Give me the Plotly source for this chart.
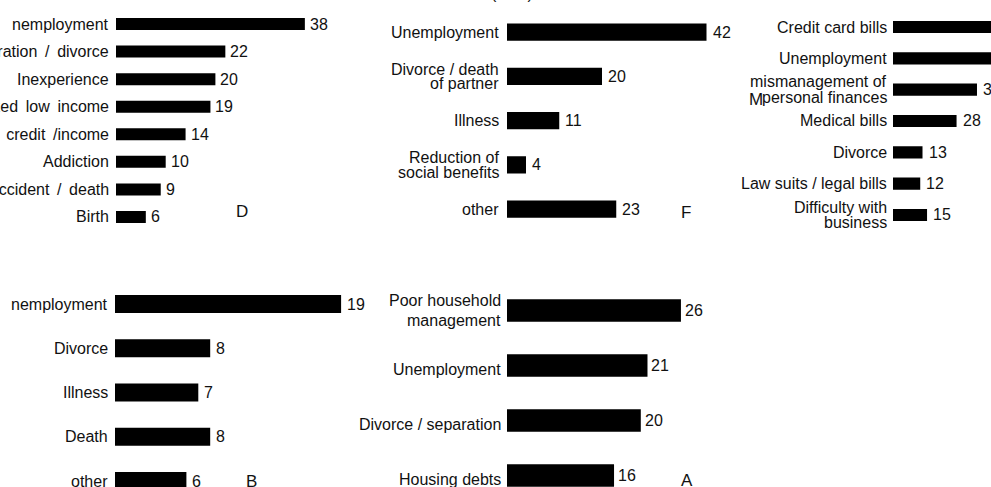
import plotly.graph_objects as go

# ---------------- data ----------------
d_categories = ["nemployment", "Separation / divorce", "Inexperience", "Fixed low income",
                "Excess credit /income", "Addiction", "Accident / death", "Birth"]
d_values = [38, 22, 20, 19, 14, 10, 9, 6]

f_categories = ["Unemployment", "Divorce / death<br>of partner", "Illness",
                "Reduction of<br>social benefits", "other"]
f_values = [42, 20, 11, 4, 23]

m_categories = ["Credit card bills", "Unemployment", "mismanagement of<br>personal finances",
                "Medical bills", "Divorce", "Law suits / legal bills", "Difficulty with<br>business"]
m_values = [48, 46, 37, 28, 13, 12, 15]

b_categories = ["nemployment", "Divorce", "Illness", "Death", "other"]
b_values = [19, 8, 7, 8, 6]

a_categories = ["Poor household<br>management", "Unemployment", "Divorce / separation", "Housing debts"]
a_values = [26, 21, 20, 16]

panel_letters = ["D", "F", "M", "B", "A"]
title_text = "(in %)"

# ---------------- layout config (pixels) ----------------
W, H = 991, 487
FONT = "Liberation Sans, Arial, Helvetica, sans-serif"
FS = 16

panels = [
    dict(cats=d_categories, vals=d_values, x0=116, x1=316, ppu=4.97, c0=24.0, sp=27.57,
         bw=0.435, lgap=5, vgap=3, lsp=15, lys=0, wide=True, letter=(242, 211)),
    dict(cats=f_categories, vals=f_values, x0=507, x1=707, ppu=4.75, c0=32.0, sp=44.25,
         bw=0.39, lgap=6, vgap=4, lsp=14.5, lys=0, wide=False, letter=(686, 212)),
    dict(cats=m_categories, vals=m_values, x0=893, x1=991, ppu=2.27, c0=27.0, sp=31.33,
         bw=0.39, lgap=4, vgap=4, lsp=15.5, lys=0, wide=False, letter=(756, 100)),
    dict(cats=b_categories, vals=b_values, x0=115, x1=355, ppu=11.9, c0=304.0, sp=44.25,
         bw=0.41, lgap=5, vgap=4, lsp=15, lys=0, wide=False, letter=(251.5, 481)),
    dict(cats=a_categories, vals=a_values, x0=507, x1=707, ppu=6.69, c0=310.5, sp=55.0,
         bw=0.41, lgap=4, vgap=2, lsp=20, lys=-4, wide=False, letter=(687, 480)),
]

fig = go.Figure()
annotations = []
layout = {}

for i, p in enumerate(panels):
    k = "" if i == 0 else str(i + 1)
    xa, ya = "x" + k, "y" + k
    n = len(p["cats"])
    ytop = max(0.0, p["c0"] - p["sp"] / 2)
    ybot = min(float(H), p["c0"] + (n - 0.5) * p["sp"])
    r_top = (ytop - p["c0"]) / p["sp"]
    r_bot = (ybot - p["c0"]) / p["sp"]

    fig.add_trace(go.Bar(
        x=p["vals"], y=p["cats"], orientation="h", width=p["bw"],
        marker=dict(color="#000000", line=dict(width=0)),
        xaxis=xa, yaxis=ya, hoverinfo="skip", showlegend=False,
    ))

    layout["xaxis" + k] = dict(
        domain=[p["x0"] / W, p["x1"] / W], range=[0, (p["x1"] - p["x0"]) / p["ppu"]],
        visible=False, fixedrange=True, anchor=ya,
    )
    layout["yaxis" + k] = dict(
        domain=[1 - ybot / H, 1 - ytop / H], range=[r_bot, r_top],
        type="category", categoryorder="array", categoryarray=p["cats"],
        visible=False, fixedrange=True, anchor=xa,
    )

    for cat, val in zip(p["cats"], p["vals"]):
        lines = cat.split("<br>")
        nl = len(lines)
        for j, line in enumerate(lines):
            shift = ((nl - 1) / 2 - j) * p["lsp"] + (p["lys"] if nl == 1 else 0)
            shown = line.replace(" ", " \u2009") if p["wide"] else line
            annotations.append(dict(
                x=0, y=cat, xref=xa, yref=ya, text=shown, showarrow=False,
                xanchor="right", yanchor="middle", xshift=-p["lgap"], yshift=shift,
                font=dict(family=FONT, size=FS, color="#111111"),
            ))
        annotations.append(dict(
            x=val, y=cat, xref=xa, yref=ya, text=str(val), showarrow=False,
            xanchor="left", yanchor="middle", xshift=p["vgap"],
            font=dict(family=FONT, size=FS, color="#111111"),
        ))

    lx, ly = p["letter"]
    annotations.append(dict(
        x=lx / W, y=1 - ly / H, xref="paper", yref="paper", text=panel_letters[i],
        showarrow=False, xanchor="center", yanchor="middle",
        font=dict(family=FONT, size=FS + 1, color="#111111"),
    ))

annotations.append(dict(
    x=512 / W, y=1 - 3.5 / H, xref="paper", yref="paper", text=title_text,
    showarrow=False, xanchor="center", yanchor="bottom",
    font=dict(family=FONT, size=FS, color="#111111"),
))

fig.update_layout(
    width=W, height=H, margin=dict(l=0, r=0, t=0, b=0),
    paper_bgcolor="white", plot_bgcolor="white",
    annotations=annotations, barmode="overlay",
    **layout,
)

fig.write_html(
    "out.html",
    config={"displayModeBar": False},
    post_script="document.body.style.margin='0';document.body.style.overflow='hidden';",
)
